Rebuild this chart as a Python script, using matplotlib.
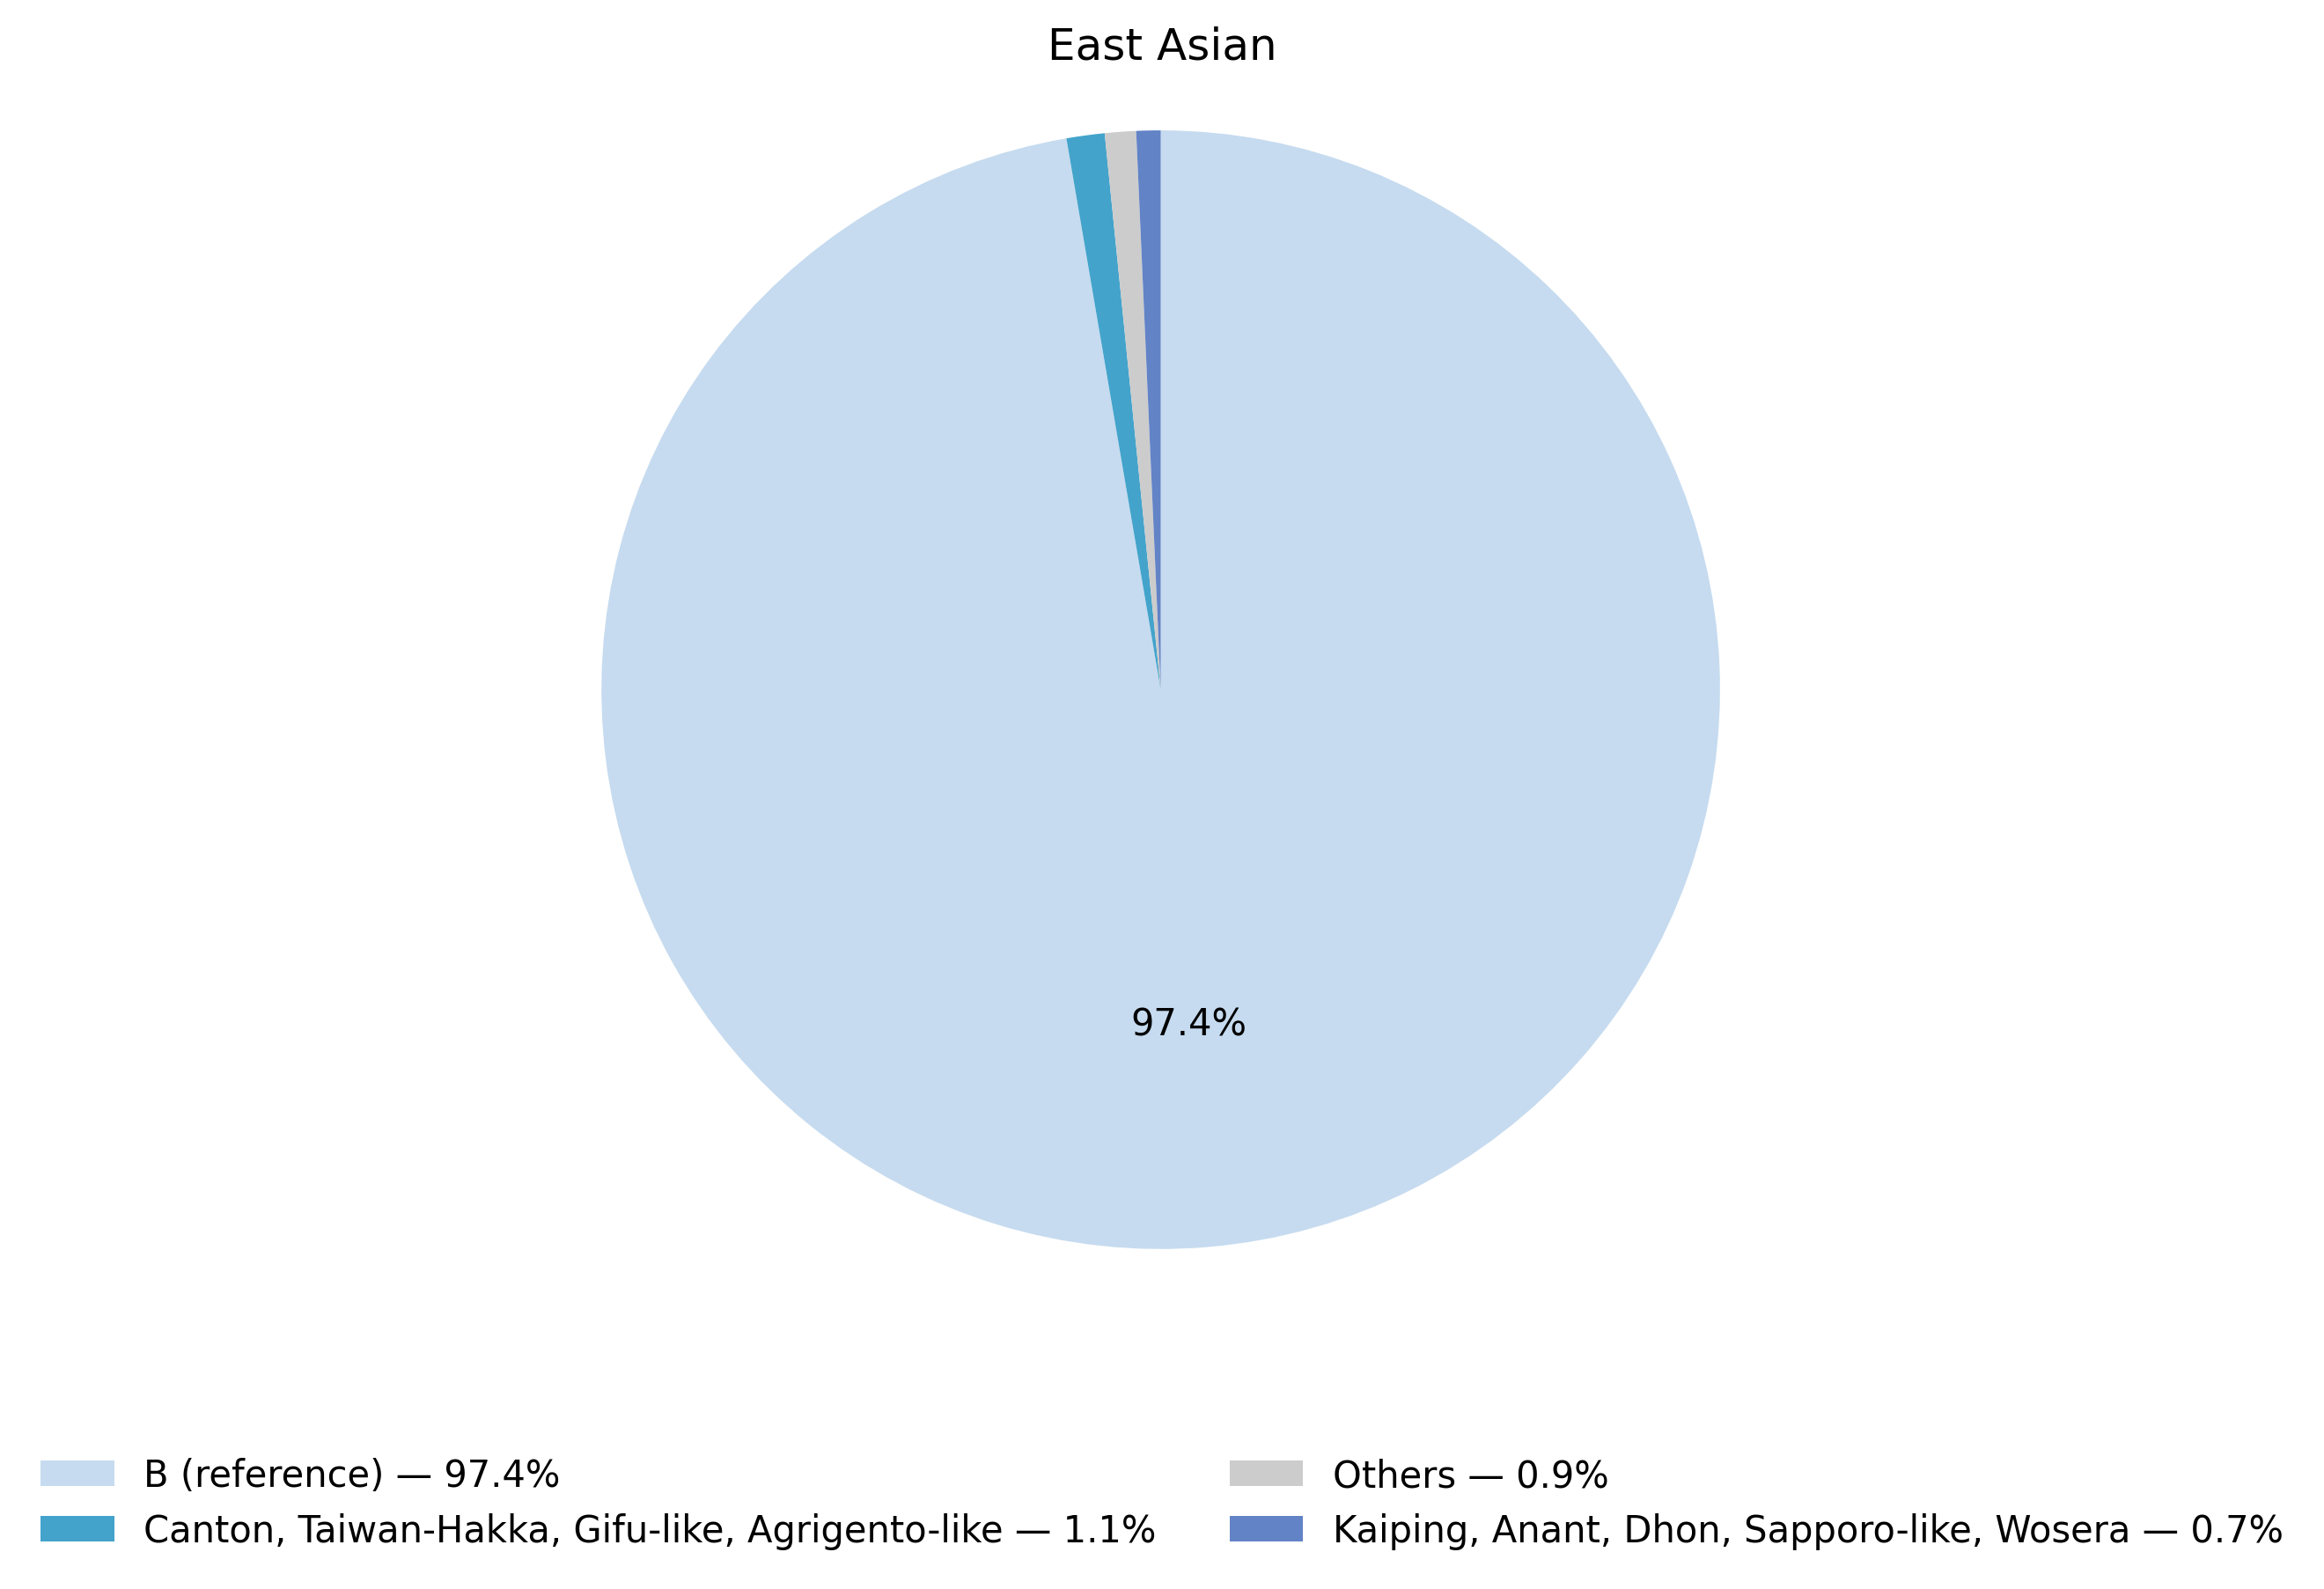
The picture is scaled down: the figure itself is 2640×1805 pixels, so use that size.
import matplotlib
matplotlib.use("Agg")
import matplotlib.pyplot as plt

labels = ["B (reference)",
          "Canton, Taiwan-Hakka, Gifu-like, Agrigento-like",
          "Others",
          "Kaiping, Anant, Dhon, Sapporo-like, Wosera"]
shares = [97.4, 1.1, 0.9, 0.7]
colors = ["#c6dbef", "#43a3cb", "#cccccc", "#6283c6"]
title = "East Asian"

fig = plt.figure(figsize=(8.8, 6.02), dpi=300)
ax = fig.add_axes([0.1986, 0.1259, 0.6017, 0.8795])

total = sum(shares)


def pct_label(p):
    # only label big slices, show the given share
    v = p * total / 100
    return f"{v:.1f}%" if v >= 5 else ""


wedges, texts, autotexts = ax.pie(shares, colors=colors, startangle=90, counterclock=False,
                                  autopct=pct_label, pctdistance=0.6,
                                  textprops={"fontsize": 10})
ax.set_aspect("equal")
ax.set_xlim(-1.25, 1.25)
ax.set_ylim(-1.25, 1.25)

fig.text(0.5, 1 - 68 / 1806, title, ha="center", va="baseline", fontsize=12)

legend_labels = [f"{l} \u2014 {s:.1f}%" for l, s in zip(labels, shares)]
fig.legend(wedges, legend_labels, loc="lower center", ncol=2, frameon=False,
           bbox_to_anchor=(0.5, 0.004), fontsize=10)

fig.savefig("out.png", dpi=300)
